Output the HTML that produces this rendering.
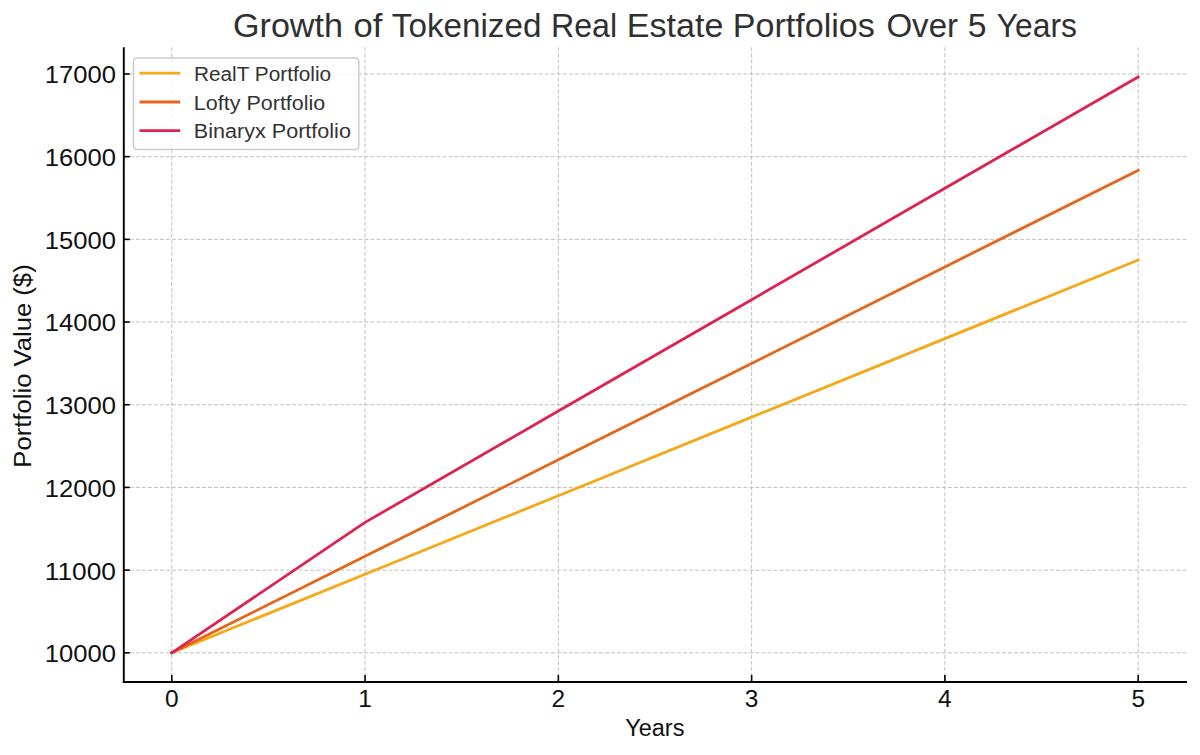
<!DOCTYPE html><html><head><meta charset="utf-8"><title>Growth of Tokenized Real Estate Portfolios Over 5 Years</title><style>html,body{margin:0;padding:0;background:#fff;overflow:hidden;}svg{display:block;}</style></head><body>
<svg width="1200" height="755" viewBox="0 0 1200 755">
<rect x="0" y="0" width="1200" height="755" fill="#ffffff"/>
<g stroke="#c0c0c0" stroke-width="1" stroke-dasharray="4.0 2.015" fill="none"><line x1="171.78" y1="47.30" x2="171.78" y2="682.00"/><line x1="365.06" y1="47.30" x2="365.06" y2="682.00"/><line x1="558.34" y1="47.30" x2="558.34" y2="682.00"/><line x1="751.62" y1="47.30" x2="751.62" y2="682.00"/><line x1="944.90" y1="47.30" x2="944.90" y2="682.00"/><line x1="1138.18" y1="47.30" x2="1138.18" y2="682.00"/><line x1="123.80" y1="652.80" x2="1187.00" y2="652.80"/><line x1="123.80" y1="570.11" x2="1187.00" y2="570.11"/><line x1="123.80" y1="487.42" x2="1187.00" y2="487.42"/><line x1="123.80" y1="404.73" x2="1187.00" y2="404.73"/><line x1="123.80" y1="322.04" x2="1187.00" y2="322.04"/><line x1="123.80" y1="239.35" x2="1187.00" y2="239.35"/><line x1="123.80" y1="156.66" x2="1187.00" y2="156.66"/><line x1="123.80" y1="73.97" x2="1187.00" y2="73.97"/></g>
<polyline points="171.78,652.80 365.06,574.24 558.34,495.69 751.62,417.13 944.90,338.58 1138.18,260.02" fill="none" stroke="#F3A91A" stroke-width="2.8" stroke-linejoin="round" stroke-linecap="square"/>
<polyline points="171.78,652.80 365.06,556.33 558.34,459.85 751.62,363.38 944.90,266.90 1138.18,170.43" fill="none" stroke="#E3661B" stroke-width="2.8" stroke-linejoin="round" stroke-linecap="square"/>
<polyline points="171.78,652.80 365.06,522.40 558.34,411.04 751.62,299.67 944.90,188.31 1138.18,76.95" fill="none" stroke="#DB2452" stroke-width="2.8" stroke-linejoin="round" stroke-linecap="square"/>
<line x1="123.8" y1="47.3" x2="123.8" y2="683.0" stroke="#000" stroke-width="1.9"/>
<line x1="122.8" y1="682.0" x2="1187.0" y2="682.0" stroke="#000" stroke-width="1.9"/>
<g stroke="#000" stroke-width="1.6"><line x1="171.78" y1="682.0" x2="171.78" y2="675.0"/><line x1="365.06" y1="682.0" x2="365.06" y2="675.0"/><line x1="558.34" y1="682.0" x2="558.34" y2="675.0"/><line x1="751.62" y1="682.0" x2="751.62" y2="675.0"/><line x1="944.90" y1="682.0" x2="944.90" y2="675.0"/><line x1="1138.18" y1="682.0" x2="1138.18" y2="675.0"/><line x1="123.8" y1="652.80" x2="129.8" y2="652.80"/><line x1="123.8" y1="570.11" x2="129.8" y2="570.11"/><line x1="123.8" y1="487.42" x2="129.8" y2="487.42"/><line x1="123.8" y1="404.73" x2="129.8" y2="404.73"/><line x1="123.8" y1="322.04" x2="129.8" y2="322.04"/><line x1="123.8" y1="239.35" x2="129.8" y2="239.35"/><line x1="123.8" y1="156.66" x2="129.8" y2="156.66"/><line x1="123.8" y1="73.97" x2="129.8" y2="73.97"/></g>
<rect x="133.5" y="58" width="225.3" height="91.5" rx="3.5" ry="3.5" fill="#ffffff" fill-opacity="0.8" stroke="#cccccc" stroke-width="1.5"/>
<line x1="139.5" y1="73.1" x2="180.2" y2="73.1" stroke="#F3A91A" stroke-width="2.8"/>
<text x="193.90" y="80.80" font-family='"Liberation Sans", sans-serif' font-size="20.35" fill="#333333" textLength="137.27" lengthAdjust="spacingAndGlyphs">RealT Portfolio</text>
<line x1="139.5" y1="102.0" x2="180.2" y2="102.0" stroke="#E3661B" stroke-width="2.8"/>
<text x="193.84" y="109.60" font-family='"Liberation Sans", sans-serif' font-size="20.35" fill="#333333" textLength="131.47" lengthAdjust="spacingAndGlyphs">Lofty Portfolio</text>
<line x1="139.5" y1="130.6" x2="180.2" y2="130.6" stroke="#DB2452" stroke-width="2.8"/>
<text x="193.83" y="137.70" font-family='"Liberation Sans", sans-serif' font-size="20.35" fill="#333333" textLength="157.08" lengthAdjust="spacingAndGlyphs">Binaryx Portfolio</text>
<text x="44.80" y="662.20" font-family='"Liberation Sans", sans-serif' font-size="24.13" fill="#111111" textLength="71.20" lengthAdjust="spacingAndGlyphs">10000</text>
<text x="44.80" y="579.51" font-family='"Liberation Sans", sans-serif' font-size="24.13" fill="#111111" textLength="71.20" lengthAdjust="spacingAndGlyphs">11000</text>
<text x="44.80" y="496.82" font-family='"Liberation Sans", sans-serif' font-size="24.13" fill="#111111" textLength="71.20" lengthAdjust="spacingAndGlyphs">12000</text>
<text x="44.80" y="414.13" font-family='"Liberation Sans", sans-serif' font-size="24.13" fill="#111111" textLength="71.20" lengthAdjust="spacingAndGlyphs">13000</text>
<text x="44.80" y="331.44" font-family='"Liberation Sans", sans-serif' font-size="24.13" fill="#111111" textLength="71.20" lengthAdjust="spacingAndGlyphs">14000</text>
<text x="44.80" y="248.75" font-family='"Liberation Sans", sans-serif' font-size="24.13" fill="#111111" textLength="71.20" lengthAdjust="spacingAndGlyphs">15000</text>
<text x="44.80" y="166.06" font-family='"Liberation Sans", sans-serif' font-size="24.13" fill="#111111" textLength="71.20" lengthAdjust="spacingAndGlyphs">16000</text>
<text x="44.80" y="83.37" font-family='"Liberation Sans", sans-serif' font-size="24.13" fill="#111111" textLength="71.20" lengthAdjust="spacingAndGlyphs">17000</text>
<text x="171.78" y="706.5" text-anchor="middle" font-family='"Liberation Sans", sans-serif' font-size="24.4" fill="#111111">0</text>
<text x="365.06" y="706.5" text-anchor="middle" font-family='"Liberation Sans", sans-serif' font-size="24.4" fill="#111111">1</text>
<text x="558.34" y="706.5" text-anchor="middle" font-family='"Liberation Sans", sans-serif' font-size="24.4" fill="#111111">2</text>
<text x="751.62" y="706.5" text-anchor="middle" font-family='"Liberation Sans", sans-serif' font-size="24.4" fill="#111111">3</text>
<text x="944.90" y="706.5" text-anchor="middle" font-family='"Liberation Sans", sans-serif' font-size="24.4" fill="#111111">4</text>
<text x="1138.18" y="706.5" text-anchor="middle" font-family='"Liberation Sans", sans-serif' font-size="24.4" fill="#111111">5</text>
<text x="625.30" y="736.25" font-family='"Liberation Sans", sans-serif' font-size="24.56" fill="#111111" textLength="59.11" lengthAdjust="spacingAndGlyphs">Years</text>
<text transform="translate(30.9,465.6) rotate(-90)" x="-2.08" y="0" font-family='"Liberation Sans", sans-serif' font-size="24.42" fill="#111111" textLength="203.36" lengthAdjust="spacingAndGlyphs">Portfolio Value ($)</text>
<text x="232.98" y="36.80" font-family='"Liberation Sans", sans-serif' font-size="32.41" fill="#303030" textLength="110.03" lengthAdjust="spacingAndGlyphs">Growth</text>
<text x="353.54" y="36.80" font-family='"Liberation Sans", sans-serif' font-size="32.41" fill="#303030" textLength="28.90" lengthAdjust="spacingAndGlyphs">of</text>
<text x="391.77" y="36.80" font-family='"Liberation Sans", sans-serif' font-size="32.41" fill="#303030" textLength="149.72" lengthAdjust="spacingAndGlyphs">Tokenized</text>
<text x="550.96" y="36.80" font-family='"Liberation Sans", sans-serif' font-size="32.41" fill="#303030" textLength="66.19" lengthAdjust="spacingAndGlyphs">Real</text>
<text x="626.80" y="36.80" font-family='"Liberation Sans", sans-serif' font-size="32.41" fill="#303030" textLength="96.71" lengthAdjust="spacingAndGlyphs">Estate</text>
<text x="732.81" y="36.80" font-family='"Liberation Sans", sans-serif' font-size="32.41" fill="#303030" textLength="142.03" lengthAdjust="spacingAndGlyphs">Portfolios</text>
<text x="886.43" y="36.80" font-family='"Liberation Sans", sans-serif' font-size="32.41" fill="#303030" textLength="71.61" lengthAdjust="spacingAndGlyphs">Over</text>
<text x="967.65" y="36.80" font-family='"Liberation Sans", sans-serif' font-size="32.41" fill="#303030" textLength="18.77" lengthAdjust="spacingAndGlyphs">5</text>
<text x="996.83" y="36.80" font-family='"Liberation Sans", sans-serif' font-size="32.41" fill="#303030" textLength="80.08" lengthAdjust="spacingAndGlyphs">Years</text>
</svg></body></html>
